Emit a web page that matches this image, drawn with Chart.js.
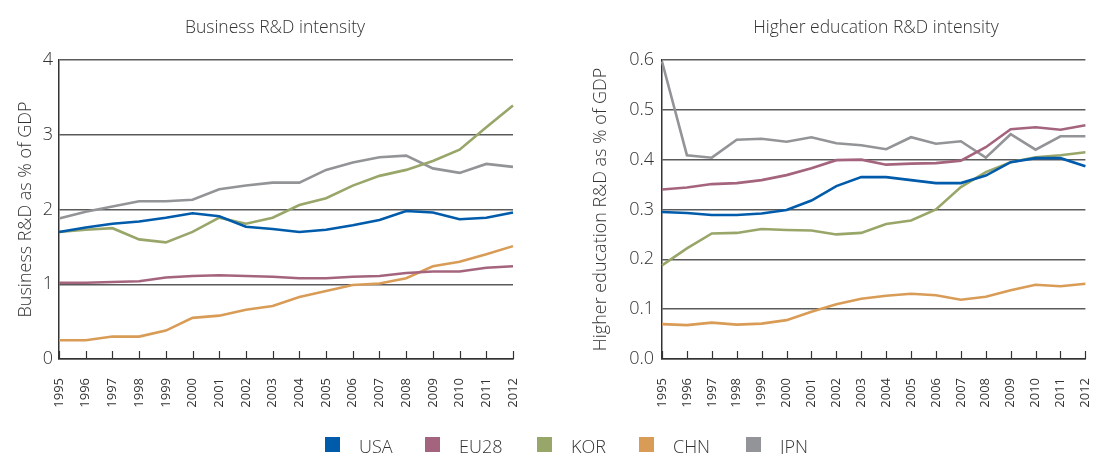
<!DOCTYPE html>
<html>
<head>
<meta charset="utf-8">
<script src="https://cdn.jsdelivr.net/npm/chart.js@4"></script>
<style>
  html, body { margin: 0; padding: 0; background: #fff; width: 1120px; height: 454px; overflow: hidden; position: relative; }
  #c1 { position: absolute; left: 0; top: 0; }
  #c2 { position: absolute; left: 560px; top: 0; }
  .ttl { position: absolute; top: 16px; width: 400px; text-align: center; font-family: "Open Sans", sans-serif; font-weight: 300; font-size: 17.5px; line-height: 20px; color: #333; white-space: nowrap; }
  .leg { position: absolute; top: 436px; font-family: "Open Sans", sans-serif; font-weight: 300; font-size: 18px; color: #333; line-height: 20px; }
  .sw { position: absolute; top: 437px; width: 15px; height: 15px; }
</style>
</head>
<body>
<canvas id="c1" width="560" height="454"></canvas>
<canvas id="c2" width="560" height="454"></canvas>
<div class="ttl" id="t1" style="left:75px;"></div>
<div class="ttl" id="t2" style="left:676px;"></div>
<div id="legend"></div>
<script>
const years = ["1995","1996","1997","1998","1999","2000","2001","2002","2003","2004","2005","2006","2007","2008","2009","2010","2011","2012"];
const seriesNames = ["USA","EU28","KOR","CHN","JPN"];
const seriesColors = ["#005baa","#a5647e","#98a66a","#d99c57","#939497"];
const titles = ["Business R&D intensity", "Higher education R&D intensity"];
const yTitles = ["Business R&D as % of GDP", "Higher education R&D as % of GDP"];

// Business R&D as % of GDP
const bizUSA  = [1.70,1.76,1.81,1.84,1.89,1.95,1.91,1.77,1.74,1.70,1.73,1.79,1.86,1.98,1.96,1.87,1.89,1.96];
const bizEU28 = [1.02,1.02,1.03,1.04,1.09,1.11,1.12,1.11,1.10,1.08,1.08,1.10,1.11,1.15,1.17,1.17,1.22,1.24];
const bizKOR  = [1.70,1.73,1.75,1.60,1.56,1.70,1.89,1.81,1.89,2.06,2.15,2.32,2.45,2.53,2.65,2.80,3.10,3.39];
const bizCHN  = [0.25,0.25,0.30,0.30,0.38,0.55,0.58,0.66,0.71,0.83,0.91,0.99,1.01,1.08,1.24,1.30,1.40,1.51];
const bizJPN  = [1.88,1.97,2.04,2.11,2.11,2.13,2.27,2.32,2.36,2.36,2.53,2.63,2.70,2.72,2.55,2.49,2.61,2.57];

// Higher education R&D as % of GDP
const heUSA  = [0.295,0.293,0.289,0.289,0.292,0.299,0.318,0.347,0.365,0.365,0.359,0.353,0.353,0.368,0.395,0.403,0.403,0.387];
const heEU28 = [0.340,0.344,0.351,0.353,0.359,0.369,0.383,0.399,0.400,0.390,0.392,0.393,0.398,0.425,0.461,0.465,0.460,0.469];
const heKOR  = [0.188,0.222,0.252,0.253,0.261,0.259,0.258,0.250,0.253,0.271,0.278,0.300,0.345,0.375,0.395,0.405,0.409,0.415];
const heCHN  = [0.070,0.068,0.073,0.069,0.071,0.078,0.095,0.110,0.121,0.127,0.131,0.128,0.119,0.125,0.138,0.149,0.146,0.151];
const heJPN  = [0.597,0.409,0.404,0.440,0.442,0.436,0.445,0.433,0.429,0.421,0.445,0.432,0.437,0.404,0.451,0.420,0.447,0.447];

const FONT = '"Open Sans", sans-serif';
const TXT = '#333';
const GRID = '#5a5a5a';

document.getElementById('t1').textContent = titles[0];
document.getElementById('t2').textContent = titles[1];

// ticks pointing up into the plot area along the x axis
const innerTicks = {
  id: 'innerTicks',
  afterDatasetsDraw(chart) {
    const ctx = chart.ctx, xs = chart.scales.x, bottom = chart.chartArea.bottom;
    ctx.save();
    ctx.strokeStyle = '#333';
    ctx.lineWidth = 1.2;
    xs.ticks.forEach((t, i) => {
      const x = Math.round(xs.getPixelForTick(i)) + 0.5;
      ctx.beginPath();
      ctx.moveTo(x, bottom);
      ctx.lineTo(x, bottom - 8);
      ctx.stroke();
    });
    ctx.restore();
  }
};

function makeChart(id, yTitle, data, yMax, yStep, decimals, cfg) {
  const datasets = seriesNames.map((n, i) => ({
    label: n,
    data: data[i],
    borderColor: seriesColors[i],
    backgroundColor: seriesColors[i],
    borderWidth: 2.6,
    pointRadius: 0,
    tension: 0,
    fill: false
  }));
  return new Chart(document.getElementById(id), {
    type: 'line',
    data: { labels: years, datasets: datasets },
    plugins: [innerTicks],
    options: {
      responsive: false,
      animation: false,
      devicePixelRatio: 1,
      layout: { padding: { left: 0, right: cfg.padR, top: 60, bottom: 0 } },
      plugins: {
        legend: { display: false },
        tooltip: { enabled: false },
        title: { display: false }
      },
      scales: {
        x: {
          offset: false,
          grid: { display: false, drawTicks: false },
          border: { display: true, color: '#333', width: 1.5 },
          afterFit: s => { s.height = 95; },
          ticks: {
            color: TXT, autoSkip: false, minRotation: 90, maxRotation: 90, padding: 19,
            font: { family: FONT, size: 13, weight: 'normal' }
          }
        },
        y: {
          min: 0, max: yMax,
          afterFit: s => { s.width = cfg.yWidth; },
          grid: { color: GRID, lineWidth: 1.5, drawTicks: false },
          border: { display: true, color: '#333', width: 1.5 },
          title: {
            display: true, text: yTitle, color: TXT,
            font: { family: FONT, size: 18, weight: 300 },
            padding: { top: cfg.titlePad, bottom: 0 }
          },
          ticks: {
            stepSize: yStep, color: TXT, padding: cfg.tickPad,
            font: { family: FONT, size: 18, weight: 300 },
            callback: v => Number(v).toFixed(decimals)
          }
        }
      }
    }
  });
}

makeChart('c1', yTitles[0], [bizUSA, bizEU28, bizKOR, bizCHN, bizJPN], 4, 1, 0,
  { padR: 47, yWidth: 59, titlePad: 15, tickPad: 6 });
makeChart('c2', yTitles[1], [heUSA, heEU28, heKOR, heCHN, heJPN], 0.6, 0.1, 1,
  { padR: 8, yWidth: 102, titlePad: 30, tickPad: 8 });

// legend
const legX = [325, 425, 537, 639, 746];
const legend = document.getElementById('legend');
seriesNames.forEach((n, i) => {
  const sw = document.createElement('div');
  sw.className = 'sw';
  sw.style.left = legX[i] + 'px';
  sw.style.background = seriesColors[i];
  legend.appendChild(sw);
  const t = document.createElement('div');
  t.className = 'leg';
  t.style.left = (legX[i] + 34) + 'px';
  t.textContent = n;
  legend.appendChild(t);
});
</script>
</body>
</html>
